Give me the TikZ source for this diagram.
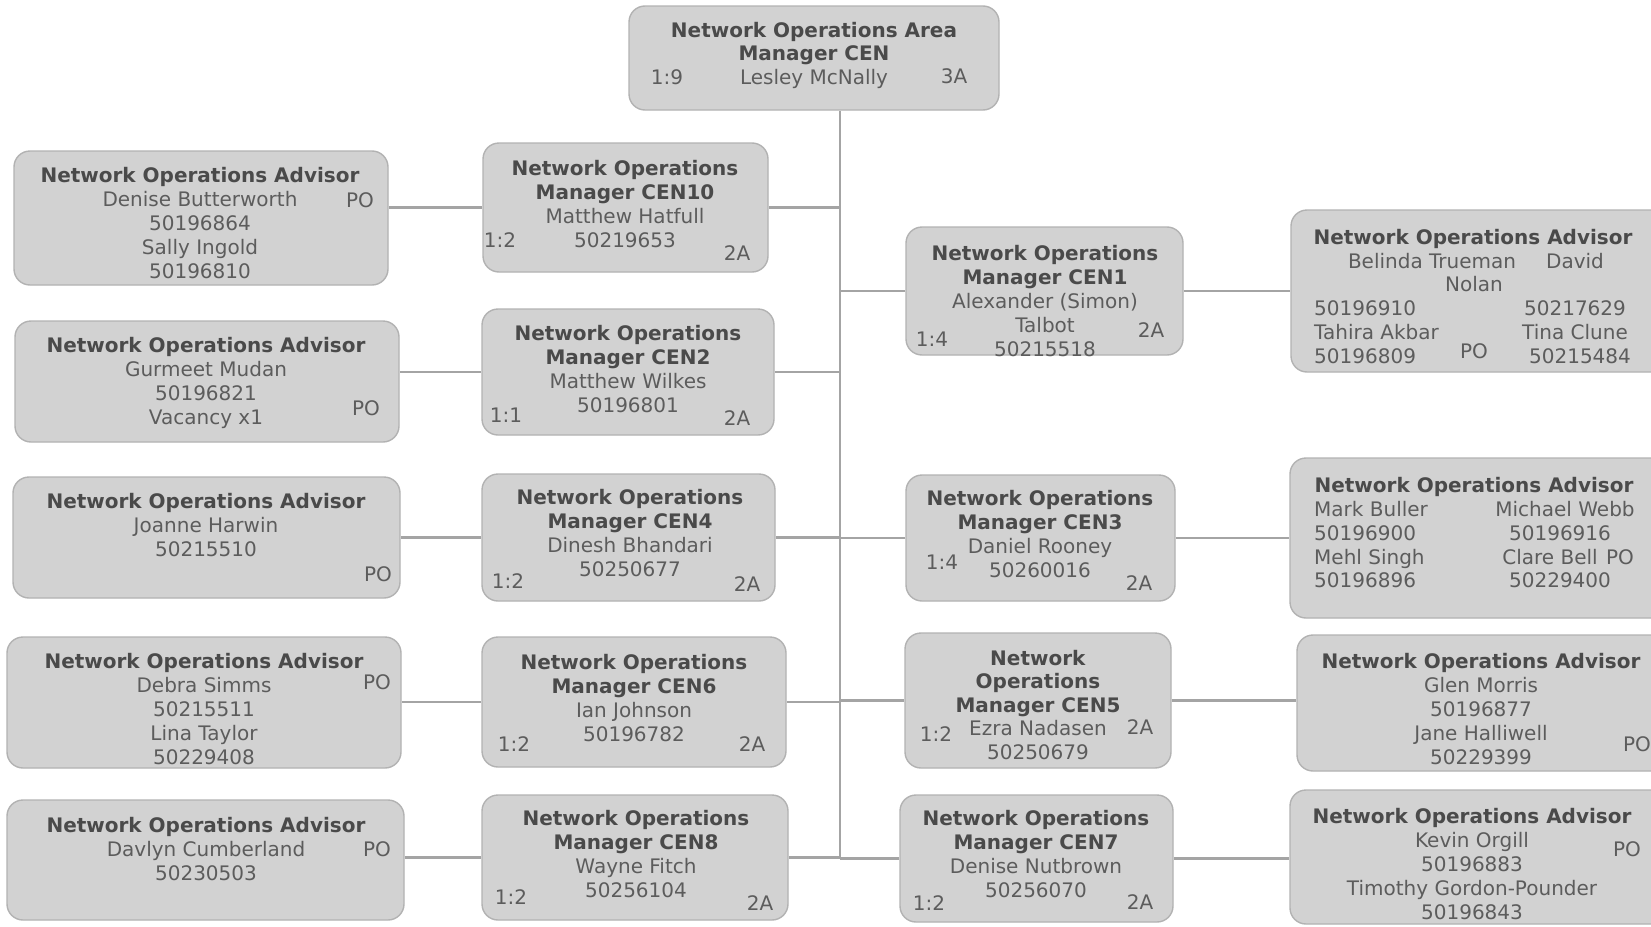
\documentclass[tikz,border=0pt]{standalone}
\usepackage{fontspec}
\setmainfont{DejaVu Sans}
\usetikzlibrary{backgrounds}
\definecolor{boxfill}{HTML}{D2D2D2}
\definecolor{boxline}{HTML}{B2B2B2}
\definecolor{titlec}{HTML}{4A4A4A}
\definecolor{txtc}{HTML}{5C5C5C}
\definecolor{linec}{HTML}{A4A4A4}
\newcommand\tl[1]{\textcolor{titlec}{\textbf{#1}}}
\tikzset{
  box/.style={draw=boxline, fill=boxfill, rounded corners=16pt, line width=1.4pt, inner sep=0pt},
  txt/.style={align=center, anchor=base, inner sep=0pt, text=txtc},
  lbl/.style={anchor=base, inner sep=0pt, text=txtc},
  lblw/.style={anchor=base west, inner sep=0pt, text=txtc},
  link/.style={draw=linec, line width=2.4pt}
}
\begin{document}
\begin{tikzpicture}[x=1pt,y=-1pt,font=\fontsize{20}{24}\selectfont]
\useasboundingbox (0,0) rectangle (1651,926);
\clip (0,0) rectangle (1651,926);
\coordinate (tb) at (840,857);
% ---- boxes ----
\node[box, minimum width=370pt, minimum height=104pt] (top) at (814,58) {};
\node[box, minimum width=374pt, minimum height=134pt] (a1) at (201,218) {};
\node[box, minimum width=285pt, minimum height=129pt] (m10) at (625.5,207.5) {};
\node[box, minimum width=384pt, minimum height=121pt] (a2) at (207,381.5) {};
\node[box, minimum width=292pt, minimum height=126pt] (m2) at (628,372) {};
\node[box, minimum width=387pt, minimum height=121pt] (a3) at (206.5,537.5) {};
\node[box, minimum width=293pt, minimum height=127pt] (m4) at (628.5,537.5) {};
\node[box, minimum width=394pt, minimum height=131pt] (a4) at (204,702.5) {};
\node[box, minimum width=304pt, minimum height=130pt] (m6) at (634,702) {};
\node[box, minimum width=397pt, minimum height=120pt] (a5) at (205.5,860) {};
\node[box, minimum width=306pt, minimum height=125pt] (m8) at (635,857.5) {};
\node[box, minimum width=277pt, minimum height=128pt] (m1) at (1044.5,291) {};
\node[box, minimum width=269pt, minimum height=126pt] (m3) at (1040.5,538) {};
\node[box, minimum width=266pt, minimum height=135pt] (m5) at (1038,700.5) {};
\node[box, minimum width=273pt, minimum height=127pt] (m7) at (1036.5,858.5) {};
\node[box, minimum width=379pt, minimum height=162pt] (r1) at (1480.5,291) {};
\node[box, minimum width=380pt, minimum height=160pt] (r3) at (1480,538) {};
\node[box, minimum width=373pt, minimum height=136pt] (r5) at (1483.5,703) {};
\node[box, minimum width=380pt, minimum height=134pt] (r7) at (1480,857) {};
% ---- connectors ----
\begin{scope}[on background layer]
\path[link] (top.south -| tb) -- (tb);
\foreach \m in {m10,m2,m4,m6,m8}{\path[link] (\m.east) -- (\m.east -| tb);}
\foreach \m in {m1,m3,m5,m7}{\path[link] (\m.west) -- (\m.west -| tb);}
\path[link] (m10.west -| a1.east) -- (m10.west);
\path[link] (m2.west -| a2.east) -- (m2.west);
\path[link] (m4.west -| a3.east) -- (m4.west);
\path[link] (m6.west -| a4.east) -- (m6.west);
\path[link] (m8.west -| a5.east) -- (m8.west);
\path[link] (m1.east) -- (m1.east -| r1.west);
\path[link] (m3.east) -- (m3.east -| r3.west);
\path[link] (m5.east) -- (m5.east -| r5.west);
\path[link] (m7.east) -- (m7.east -| r7.west);
\end{scope}
% ---- texts (anchor = baseline of the last line) ----
\node[txt, font=\fontsize{20}{23.5}\selectfont] (topt) at (814,84) {\tl{Network Operations Area}\\\tl{Manager CEN}\\Lesley McNally};
\node[lbl] (topr) at (667,84) {1:9};
\node[lbl] (topg) at (954,83) {3A};

\node[txt] (a1t) at (200,278) {\tl{Network Operations Advisor}\\Denise Butterworth\\50196864\\Sally Ingold\\50196810};
\node[lbl] (a1p) at (360,207) {PO};
\node[txt] (m10t) at (625,247) {\tl{Network Operations}\\\tl{Manager CEN10}\\Matthew Hatfull\\50219653};
\node[lbl] (m10r) at (500,247) {1:2};
\node[lbl] (m10g) at (737,260) {2A};

\node[txt] (a2t) at (206,424) {\tl{Network Operations Advisor}\\Gurmeet Mudan\\50196821\\Vacancy x1};
\node[lbl] (a2p) at (366,415) {PO};
\node[txt] (m2t) at (628,412) {\tl{Network Operations}\\\tl{Manager CEN2}\\Matthew Wilkes\\50196801};
\node[lbl] (m2r) at (506,422) {1:1};
\node[lbl] (m2g) at (737,425) {2A};

\node[txt] (a3t) at (206,556) {\tl{Network Operations Advisor}\\Joanne Harwin\\50215510};
\node[lbl] (a3p) at (378,581) {PO};
\node[txt] (m4t) at (630,576) {\tl{Network Operations}\\\tl{Manager CEN4}\\Dinesh Bhandari\\50250677};
\node[lbl] (m4r) at (508,588) {1:2};
\node[lbl] (m4g) at (747,591) {2A};

\node[txt] (a4t) at (204,764) {\tl{Network Operations Advisor}\\Debra Simms\\50215511\\Lina Taylor\\50229408};
\node[lbl] (a4p) at (377,689) {PO};
\node[txt] (m6t) at (634,741) {\tl{Network Operations}\\\tl{Manager CEN6}\\Ian Johnson\\50196782};
\node[lbl] (m6r) at (514,751) {1:2};
\node[lbl] (m6g) at (752,751) {2A};

\node[txt] (a5t) at (206,880) {\tl{Network Operations Advisor}\\Davlyn Cumberland\\50230503};
\node[lbl] (a5p) at (377,856) {PO};
\node[txt] (m8t) at (636,897) {\tl{Network Operations}\\\tl{Manager CEN8}\\Wayne Fitch\\50256104};
\node[lbl] (m8r) at (511,904) {1:2};
\node[lbl] (m8g) at (760,910) {2A};

\node[txt] (m1t) at (1045,356) {\tl{Network Operations}\\\tl{Manager CEN1}\\Alexander (Simon)\\Talbot\\50215518};
\node[lbl] (m1r) at (932,346) {1:4};
\node[lbl] (m1g) at (1151,337) {2A};

\node[txt] (m3t) at (1040,577) {\tl{Network Operations}\\\tl{Manager CEN3}\\Daniel Rooney\\50260016};
\node[lbl] (m3r) at (942,569) {1:4};
\node[lbl] (m3g) at (1139,590) {2A};

\node[txt, font=\fontsize{20}{23.5}\selectfont] (m5t) at (1038,759) {\tl{Network}\\\tl{Operations}\\\tl{Manager CEN5}\\Ezra Nadasen\\50250679};
\node[lbl] (m5r) at (936,741) {1:2};
\node[lbl] (m5g) at (1140,734) {2A};

\node[txt] (m7t) at (1036,897) {\tl{Network Operations}\\\tl{Manager CEN7}\\Denise Nutbrown\\50256070};
\node[lbl] (m7r) at (929,910) {1:2};
\node[lbl] (m7g) at (1140,909) {2A};

% R1
\node[lbl] (r1t) at (1473,244) {\tl{Network Operations Advisor}};
\node[lbl] (r1a) at (1432,268) {Belinda Trueman};
\node[lbl] (r1b) at (1575,268) {David};
\node[lbl] (r1c) at (1474,291) {Nolan};
\node[lblw] (r1d) at (1314,315) {50196910};
\node[lbl] (r1e) at (1575,315) {50217629};
\node[lblw] (r1f) at (1314,339) {Tahira Akbar};
\node[lbl] (r1g) at (1575,339) {Tina Clune};
\node[lblw] (r1h) at (1314,363) {50196809};
\node[lbl] (r1p) at (1474,358) {PO};
\node[lbl] (r1i) at (1580,363) {50215484};

% R3
\node[lbl] (r3t) at (1474,492) {\tl{Network Operations Advisor}};
\node[lblw] (r3a) at (1314,516) {Mark Buller};
\node[lblw] (r3b) at (1314,540) {50196900};
\node[lblw] (r3c) at (1314,564) {Mehl Singh};
\node[lblw] (r3d) at (1314,587) {50196896};
\node[lbl] (r3e) at (1565,516) {Michael Webb};
\node[lbl] (r3f) at (1560,540) {50196916};
\node[lbl] (r3g) at (1550,564) {Clare Bell};
\node[lbl] (r3p) at (1620,564) {PO};
\node[lbl] (r3h) at (1560,587) {50229400};

% R5
\node[txt] (r5t) at (1481,764) {\tl{Network Operations Advisor}\\Glen Morris\\50196877\\Jane Halliwell\\50229399};
\node[lbl] (r5p) at (1637,751) {PO};

% R7
\node[txt] (r7t) at (1472,919) {\tl{Network Operations Advisor}\\Kevin Orgill\\50196883\\Timothy Gordon-Pounder\\50196843};
\node[lbl] (r7p) at (1627,856) {PO};
\end{tikzpicture}
\end{document}
